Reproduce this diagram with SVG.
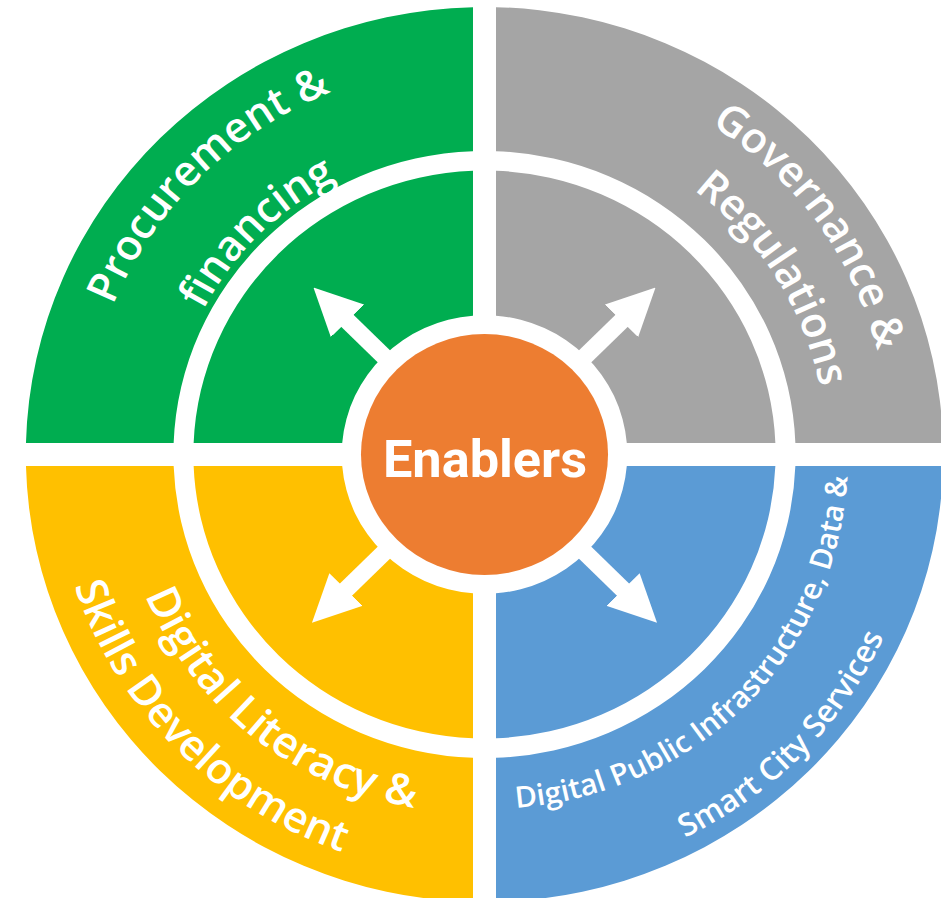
<svg xmlns="http://www.w3.org/2000/svg" xmlns:xlink="http://www.w3.org/1999/xlink" width="941" height="898" viewBox="0 0 941 898">
<defs>
<style>
.lbl{font-family:"Open Sans","Liberation Sans",sans-serif;fill:#fff;font-weight:600;}
.green{fill:#00AD50;}
.gray{fill:#A5A5A5;}
.yellow{fill:#FFC000;}
.blue{fill:#5B9BD5;}
.conn{stroke:#fff;stroke-width:17;fill:none;}
</style>
<marker id="head" viewBox="0 0 47 46" refX="1" refY="23" markerWidth="47" markerHeight="46" markerUnits="userSpaceOnUse" orient="auto">
<path d="M0,0 L47,23 L0,46 Z" fill="#fff"/>
</marker>
<path id="tp-proc" d="M277.2,277.2 A392,392 0 0 1 -277.2,-277.2 A392,392 0 0 1 277.2,277.2"/>
<path id="tp-fin" d="M219.9,219.9 A311,311 0 0 1 -219.9,-219.9 A311,311 0 0 1 219.9,219.9"/>
<path id="tp-gov" d="M-324,232.8 A399,399 0 0 1 324,-232.8 A399,399 0 0 1 -324,232.8"/>
<path id="tp-reg" d="M-284.1,177.5 A335,335 0 0 1 284.1,-177.5 A335,335 0 0 1 -284.1,177.5"/>
<path id="tp-dig" d="M227.8,-281.3 A362,362 0 0 0 -227.8,281.3 A362,362 0 0 0 227.8,-281.3"/>
<path id="tp-skill" d="M300.6,-294.8 A421,421 0 0 0 -300.6,294.8 A421,421 0 0 0 300.6,-294.8"/>
<path id="tp-dpi" d="M-256.2,-250 A358,358 0 0 0 256.2,250 A358,358 0 0 0 -256.2,-250"/>
<path id="tp-smart" d="M-310.7,-300.1 A432,432 0 0 0 310.7,300.1 A432,432 0 0 0 -310.7,-300.1"/>
</defs>
<rect width="941" height="898" fill="#fff"/>
<g transform="translate(484.5 454.5) scale(1.025 1)">
<g id="procurement-financing">
<path class="green" d="M-11.22,-447.36 L-11.22,-303.29 A303.5,303.5 0 0 0 -303.28,-11.5 L-447.35,-11.5 A447.5,447.5 0 0 1 -11.22,-447.36 Z"/>
<path class="green" d="M-11.22,-283.78 A284,284 0 0 0 -283.77,-11.5 L-138.82,-11.5 A139.3,139.3 0 0 1 -11.22,-138.85 Z"/>
<text class="lbl" font-size="42" text-anchor="middle"><textPath xlink:href="#tp-proc" href="#tp-proc" startOffset="50%">Procurement &amp;</textPath></text>
<text class="lbl" font-size="42" text-anchor="middle"><textPath xlink:href="#tp-fin" href="#tp-fin" startOffset="50%">financing</textPath></text>
</g>
<g id="governance-regulations">
<path class="gray" d="M11.22,-447.36 A447.5,447.5 0 0 1 447.35,-11.5 L303.28,-11.5 A303.5,303.5 0 0 0 11.22,-303.29 Z"/>
<path class="gray" d="M11.22,-283.78 A284,284 0 0 1 283.77,-11.5 L138.82,-11.5 A139.3,139.3 0 0 0 11.22,-138.85 Z"/>
<text class="lbl" font-size="42" text-anchor="middle"><textPath xlink:href="#tp-gov" href="#tp-gov" startOffset="50%">Governance &amp;</textPath></text>
<text class="lbl" font-size="42" text-anchor="middle"><textPath xlink:href="#tp-reg" href="#tp-reg" startOffset="50%">Regulations</textPath></text>
</g>
<g id="digital-literacy-skills">
<path class="yellow" d="M-11.22,447.36 A447.5,447.5 0 0 1 -447.35,11.5 L-303.28,11.5 A303.5,303.5 0 0 0 -11.22,303.29 Z"/>
<path class="yellow" d="M-11.22,283.78 A284,284 0 0 1 -283.77,11.5 L-138.82,11.5 A139.3,139.3 0 0 0 -11.22,138.85 Z"/>
<text class="lbl" font-size="43" text-anchor="middle"><textPath xlink:href="#tp-dig" href="#tp-dig" startOffset="50%">Digital Literacy &amp;</textPath></text>
<text class="lbl" font-size="42" text-anchor="middle"><textPath xlink:href="#tp-skill" href="#tp-skill" startOffset="50%">Skills Development</textPath></text>
</g>
<g id="digital-public-infrastructure">
<path class="blue" d="M447.35,11.5 A447.5,447.5 0 0 1 11.22,447.36 L11.22,303.29 A303.5,303.5 0 0 0 303.28,11.5 Z"/>
<path class="blue" d="M283.77,11.5 A284,284 0 0 1 11.22,283.78 L11.22,138.85 A139.3,139.3 0 0 0 138.82,11.5 Z"/>
<text class="lbl" font-size="29.5" font-weight="500" text-anchor="middle"><textPath xlink:href="#tp-dpi" href="#tp-dpi" startOffset="50%">Digital Public Infrastructure, Data &amp;</textPath></text>
<text class="lbl" font-size="31" font-weight="500" text-anchor="middle"><textPath xlink:href="#tp-smart" href="#tp-smart" startOffset="50%">Smart City Services</textPath></text>
</g>
<g id="connectors">
<line class="conn" x1="-83.44" y1="-83.44" x2="-134.35" y2="-134.35" marker-end="url(#head)"/>
<line class="conn" x1="83.44" y1="-83.44" x2="134.35" y2="-134.35" marker-end="url(#head)"/>
<line class="conn" x1="83.44" y1="83.44" x2="135.8" y2="135.8" marker-end="url(#head)"/>
<line class="conn" x1="-83.44" y1="83.44" x2="-135.8" y2="135.8" marker-end="url(#head)"/>
</g>
<g id="enablers">
<circle cx="0" cy="0" r="120.5" fill="#ED7D31"/>
<text x="0.5" y="22" text-anchor="middle" font-family="Roboto,'Liberation Sans',sans-serif" font-weight="700" font-size="51" fill="#fff">Enablers</text>
</g>
</g>
</svg>
